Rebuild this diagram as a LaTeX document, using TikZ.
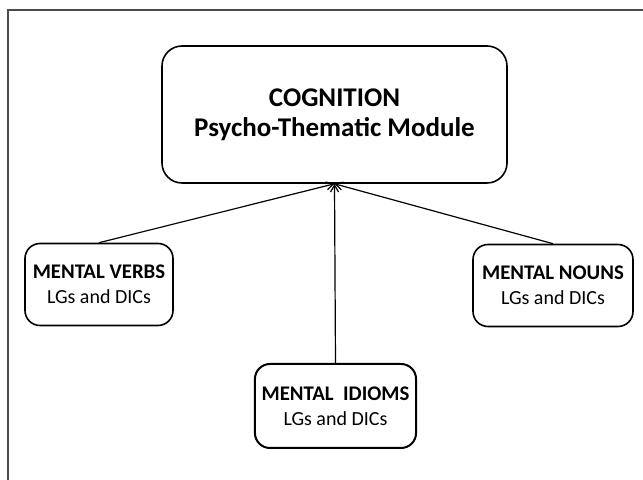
\documentclass[tikz,border=0pt]{standalone}
\usepackage{fontspec}
\setmainfont{Carlito}
\usetikzlibrary{arrows.meta}
\newcommand{\frameColor}{black!70}
\newcommand{\tipLength}{3.5pt}

\tikzset{
  topbox/.style={draw, thick, rounded corners=10pt, align=center,
    minimum width=172.5pt, minimum height=68.5pt, font=\fontsize{13.5}{14.8}\selectfont\bfseries},
  subbox/.style={draw, thick, rounded corners=7.5pt, align=center,
    minimum height=41pt, font=\fontsize{10}{12.5}\selectfont},
  link/.style={-{Straight Barb[length=\tipLength,width=4pt]}, semithick}
}

\begin{document}
\begin{tikzpicture}[x=0.5pt, y=-0.5pt]
      \useasboundingbox (0,0) rectangle (643,480);
      \draw [\frameColor, line width=0.8pt] (8,480) |- (643,10);
\node (cognition) [topbox] at (334.5,114.5) {COGNITION\\Psycho-Thematic Module};
\node (verbs) [subbox, minimum width=74pt] at (99,284.5) {{\bfseries\fontsize{10.4}{12.5}\selectfont MENTAL VERBS}\\LGs and DICs};
\node (nouns) [subbox, minimum width=80pt] at (553,285.5) {{\bfseries\fontsize{10.4}{12.5}\selectfont MENTAL NOUNS}\\LGs and DICs};
\node (idioms) [subbox, minimum width=78.5pt, minimum height=42pt, line width=1pt] at (335.5,406) {{\bfseries\fontsize{10.4}{12.5}\selectfont MENTAL\ \ IDIOMS}\\LGs and DICs};
\draw [link] (verbs.north) -- (cognition.south);
\draw [link] (nouns.north) -- (cognition.south);
\draw [link] (idioms.north) -- (cognition.south);
      \end{tikzpicture}
\end{document}
